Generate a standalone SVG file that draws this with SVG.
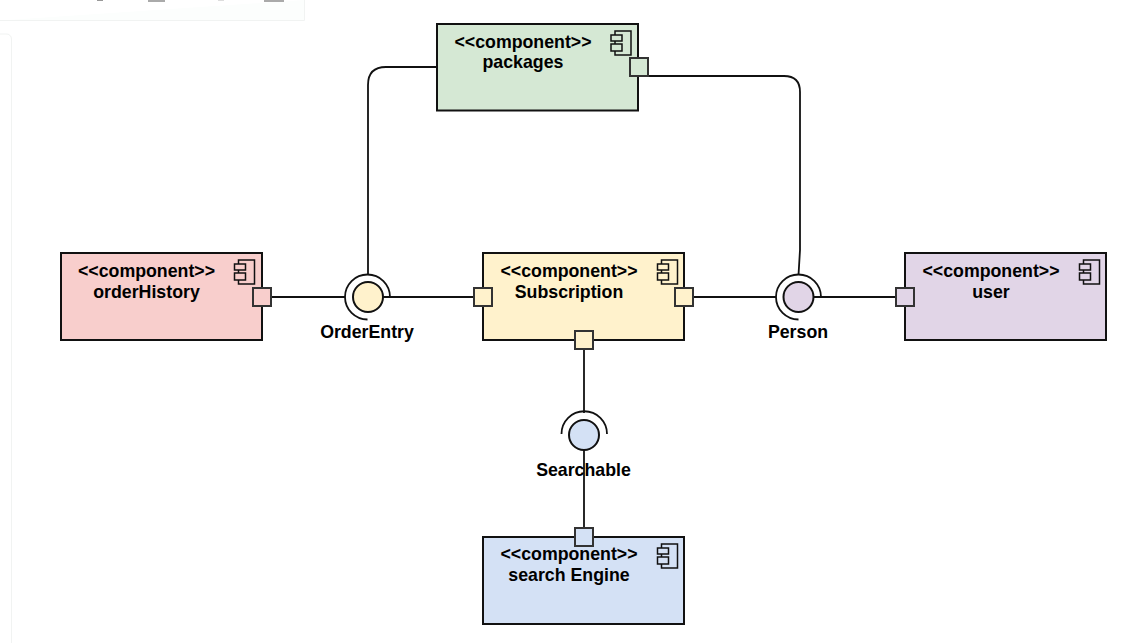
<svg xmlns="http://www.w3.org/2000/svg" width="1127" height="643" viewBox="0 0 1127 643">
<style>
.box{stroke:#111;stroke-width:2}
.port{stroke:#333;stroke-width:2}
.ic{fill:none;stroke:#111;stroke-width:1.5}
.c{fill:none;stroke:#111;stroke-width:1.8}
.ball{stroke:#111;stroke-width:2}
.sock{fill:none;stroke:#111;stroke-width:1.8}
text{font-family:"Liberation Sans",Arial,sans-serif;font-size:17.750px;font-weight:bold;fill:#000;text-anchor:middle}
.g{fill:#d5e8d4}.r{fill:#f8cecc}.y{fill:#fff2cc}.p{fill:#e1d5e7}.b{fill:#d4e1f5}
</style>
<defs>
<g id="icon"><path class="ic" d="M-16 0h16v24h-16z"/><path d="M-20 4h11v6h-11zM-20 13h11v7h-11z" fill="inherit" stroke="#111" stroke-width="1.5"/></g>
</defs>
<g id="chrome" fill="none" stroke="#f1f3f2" stroke-width="1">
<path d="M0 20.500H304.500V0" fill="#fcfefd"/>
<path d="M0 34H6a5 5 0 0 1 5.500 5V643"/>
<rect x="97" y="0" width="6" height="1" fill="#999" stroke="none"/>
<rect x="148" y="0" width="17" height="2" fill="#aaa" stroke="none"/>
<rect x="218" y="0" width="6" height="1" fill="#ddd" stroke="none"/>
<rect x="264" y="0" width="20" height="2" fill="#aaa" stroke="none"/>
</g>
<g id="connectors">
<path class="c" d="M437 67H386Q368 67 368 85V275"/>
<path class="c" d="M648 76H784Q800 76 800 92V250L798.500 275"/>
<path class="c" d="M271 297H345"/>
<path class="c" d="M383 297H474"/>
<path class="c" d="M693 297H776"/>
<path class="c" d="M814 297H896"/>
<path class="c" d="M584 349V413"/>
<path class="c" d="M584 450V528"/>
</g>
<g id="packages"><rect class="box g" x="437" y="24" width="201" height="86.500"/><use href="#icon" x="631" y="31" fill="#d5e8d4"/><text x="523" y="47.500">&lt;&lt;component&gt;&gt;</text><text x="523" y="68">packages</text><rect class="port g" x="630" y="58" width="18" height="18"/></g>
<g id="orderHistory"><rect class="box r" x="61" y="253" width="201" height="87"/><use href="#icon" x="254.500" y="260" fill="#f8cecc"/><text x="146.500" y="276.500">&lt;&lt;component&gt;&gt;</text><text x="146.500" y="298">orderHistory</text><rect class="port r" x="253" y="288" width="18" height="18"/></g>
<g id="subscription"><rect class="box y" x="483" y="253" width="201" height="87"/><use href="#icon" x="677.500" y="260" fill="#fff2cc"/><text x="569" y="276.500">&lt;&lt;component&gt;&gt;</text><text x="569" y="298">Subscription</text><rect class="port y" x="474" y="288" width="18" height="18"/><rect class="port y" x="675" y="288" width="18" height="18"/><rect class="port y" x="575" y="331" width="18" height="18"/></g>
<g id="user"><rect class="box p" x="905" y="253" width="201" height="87"/><use href="#icon" x="1099.500" y="260" fill="#e1d5e7"/><text x="991" y="276.500">&lt;&lt;component&gt;&gt;</text><text x="991" y="298">user</text><rect class="port p" x="896" y="288" width="18" height="18"/></g>
<g id="searchEngine"><rect class="box b" x="483" y="537" width="201" height="87"/><use href="#icon" x="677.500" y="544" fill="#d4e1f5"/><text x="569" y="559.500">&lt;&lt;component&gt;&gt;</text><text x="569" y="581">search Engine</text><rect class="port b" x="575" y="528" width="18" height="18"/></g>
<g id="orderEntry"><circle class="ball y" cx="368" cy="297" r="15"/><path class="sock" d="M390 297A22.500 22.500 0 1 0 367.500 319.500"/><text x="367" y="338">OrderEntry</text></g>
<g id="person"><circle class="ball p" cx="798.500" cy="297" r="15"/><path class="sock" d="M821 297A22.500 22.500 0 1 0 798.500 319.500"/><text x="798" y="338">Person</text></g>
<g id="searchable"><circle class="ball b" cx="584" cy="435" r="15"/><path class="sock" d="M561.500 434A22.500 22.500 0 0 1 607 434"/><text x="583.500" y="475.500">Searchable</text></g>
</svg>
